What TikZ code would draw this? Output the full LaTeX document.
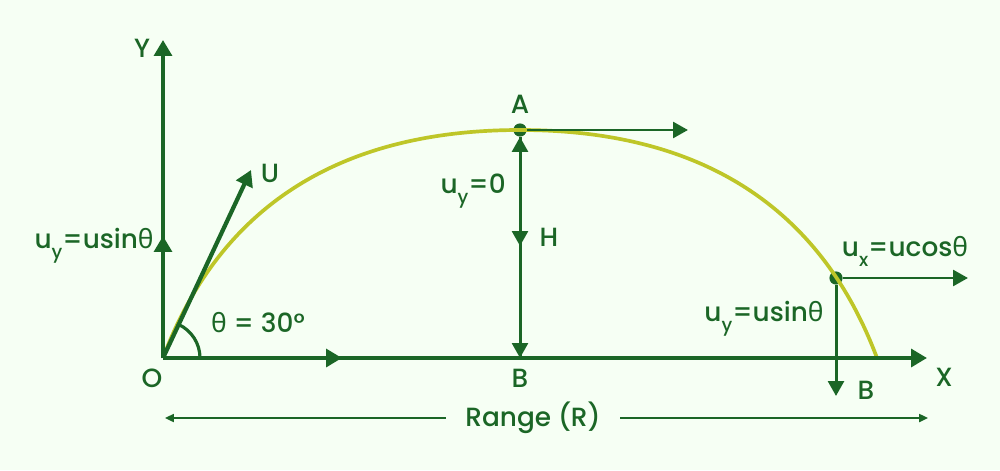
\documentclass[tikz,border=0pt]{standalone}
\usepackage{fontspec}
\setmainfont{Poppins}[UprightFont={* Medium}]
\newfontfamily\grk{Noto Sans}
\usetikzlibrary{arrows.meta,calc}
\definecolor{dgreen}{RGB}{27,102,38}
\definecolor{ygreen}{RGB}{190,198,40}
\definecolor{bgcol}{RGB}{246,255,244}
\newcommand{\thet}{{\grk θ}}
\newcommand{\idx}[1]{\raisebox{-0.7ex}{\fontsize{10.5}{12}\selectfont #1}}

\begin{document}
\begin{tikzpicture}[
    x=0.02cm, y=-0.02cm, % один пиксель эталона
    axis/.style={-{Triangle[length=9pt,width=10pt]}, line width=2.6pt, dgreen}, % Оси
    vec/.style={-{Triangle[length=8.5pt,width=9pt]}, line width=1.7pt, dgreen}, % Векторы скорости
    thinarrow/.style={-{Triangle[length=5pt,width=4.5pt]}, line width=1.1pt, dgreen}, % Стрелки дальности
    traj/.style={line width=2.1pt, ygreen}, % Траектория
    lbl/.style={text=dgreen, font=\fontsize{15}{18}\selectfont, inner sep=0pt}, % Подписи
    dot/.style={circle, fill=dgreen, inner sep=0pt, minimum size=7.5pt} % Точки
    ]

    % Фон
    \fill[bgcol] (0,0) rectangle (1000,470);

    % Опорные точки
    \coordinate (O) at (163,358);
    \coordinate (Ytip) at (163,40);
    \coordinate (Xtip) at (927,358);
    \coordinate (Ymid) at (163,236);
    \coordinate (Xmid) at (342,358);
    \coordinate (Utip) at (251,170);
    \coordinate (End) at (877,358);
    \node[dot] (A) at (520,130) {};
    \node[dot] (P) at (836,278) {};
    \coordinate (Aright) at (688,130);
    \coordinate (Hmid) at (520,246);
    \coordinate (B) at (520,358);
    \coordinate (Pright) at (968,278);
    \coordinate (Pdown) at (836,396);

    % Траектория
    \draw[traj] (O) .. controls ($(O)+(60,-160)$) and ($(A)+(-170,0)$) .. (A.center)
        .. controls ($(A)+(170,0)$) and ($(End)+(-60,-160)$) .. (End);

    % Оси
    \draw[axis] (O) -- (Ytip);
    \draw[axis] (O) -- (Xtip);
    \draw[axis] (O) -- (Ymid);
    \draw[axis] (O) -- (Xmid);

    % Начальная скорость и угол
    \draw[axis, line width=2.4pt] (O) -- (Utip);
    \draw[dgreen, line width=1.8pt] ($(O)+(37,0)$) arc[start angle=0, end angle=65, radius=0.74cm];

    % Высшая точка A
    \draw[vec] (A) -- (Aright);
    \draw[vec] (A) -- (B);
    \draw[vec] (A) -- (Hmid);
    \draw[vec] (B) -- (A);

    % Точка падения
    \draw[vec] (P) -- (Pright);
    \draw[vec] (P) -- (Pdown);

    % Подписи
    \node[lbl] (ylab) at (142,48) {Y};
    \node[lbl] (olab) at (152,378) {O};
    \node[lbl] (xlab) at (944,377) {X};
    \node[lbl] (ulab) at (270,173) {U};
    \node[lbl, anchor=east] (uyl) at (154,246) {u\idx{y}=usin\thet};
    \node[lbl] (ang) at (258,323) {\thet\ = 30°};
    \node[lbl] (alab) at (520,104) {A};
    \node[lbl, anchor=east] (uy0) at (506,191) {u\idx{y}=0};
    \node[lbl] (hlab) at (549,237) {H};
    \node[lbl] (blab) at (520,378) {B};
    \node[lbl] (uxl) at (905,251) {u\idx{x}=ucos\thet};
    \node[lbl] (uyr) at (764,319) {u\idx{y}=usin\thet};
    \node[lbl] (b2lab) at (866,390) {B};

    % Дальность полёта
    \coordinate (Rl) at (165,418);
    \coordinate (Rr) at (928,418);
    \node[lbl, inner xsep=11pt] (range) at (533,418) {Range (R)};
    \draw[thinarrow] (range) -- (Rl);
    \draw[thinarrow] (range) -- (Rr);

\end{tikzpicture}
\end{document}
